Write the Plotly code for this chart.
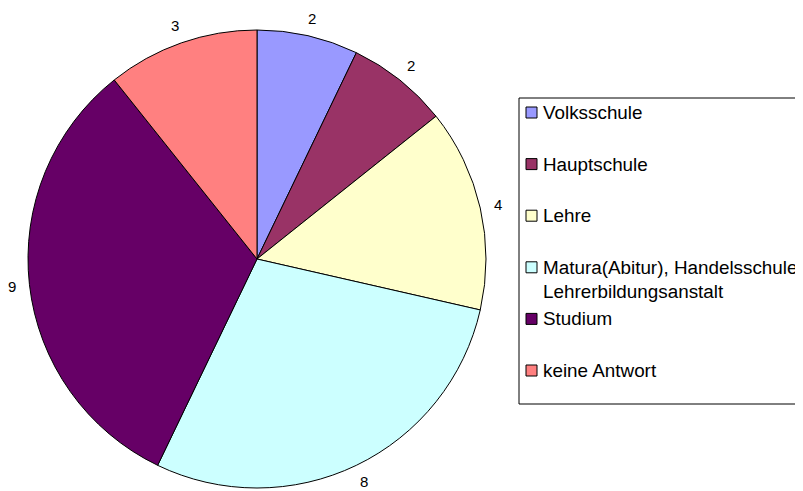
import math
import plotly.graph_objects as go

categories = ["Volksschule", "Hauptschule", "Lehre",
              "Matura(Abitur), Handelsschule<br>Lehrerbildungsanstalt",
              "Studium", "keine Antwort"]
values = [2, 2, 4, 8, 9, 3]
colors = ["#9999FF", "#993366", "#FFFFCC", "#CCFFFF", "#660066", "#FF8080"]

PAGE_W, PAGE_H = 803, 491
OFF = 8  # default body margin of the page
W, H = PAGE_W - OFF, PAGE_H - OFF
FONT = "Liberation Sans"

# pie geometry (page pixels)
cx, cy, r = 257, 259, 229
r_lab = 247  # distance of value labels from centre


def px(x):
    return (x - OFF) / W


def py(y):
    return 1 - (y - OFF) / H


labels_flat = [c.replace("<br>", " ") for c in categories]

fig = go.Figure()
fig.add_trace(go.Pie(
    labels=labels_flat, values=values, sort=False,
    direction="clockwise", rotation=0,
    marker=dict(colors=colors, line=dict(color="black", width=1)),
    textinfo="none",
    domain=dict(x=[px(cx - r), px(cx + r)], y=[py(cy + r), py(cy - r)]),
    showlegend=False, hoverinfo="label+value",
))

annotations = []
shapes = []

# value labels outside the slices, at each slice's mid-angle
total = sum(values)
cum = 0
for v in values:
    mid = (cum + v / 2) / total * 2 * math.pi  # clockwise from 12 o'clock
    cum += v
    lx = cx + r_lab * math.sin(mid)
    ly = cy - r_lab * math.cos(mid)
    annotations.append(dict(xref="paper", yref="paper", x=px(lx), y=py(ly),
                            xanchor="center", yanchor="middle", text=str(v),
                            showarrow=False,
                            font=dict(family=FONT, size=15, color="black")))

# legend box
shapes.append(dict(type="rect", xref="paper", yref="paper",
                   x0=px(519), x1=px(806), y0=py(404), y1=py(98),
                   line=dict(color="black", width=1), fillcolor="rgba(0,0,0,0)"))

item_top = 112.5
item_step = 51.6
line_step = 24
for i, (cat, col) in enumerate(zip(categories, colors)):
    yc = item_top + item_step * i
    shapes.append(dict(type="rect", xref="paper", yref="paper",
                       x0=px(526), x1=px(537), y0=py(yc + 5.5), y1=py(yc - 5.5),
                       line=dict(color="black", width=1), fillcolor=col))
    for j, line in enumerate(cat.split("<br>")):
        annotations.append(dict(xref="paper", yref="paper",
                                x=px(541), y=py(yc + j * line_step),
                                xanchor="left", yanchor="middle",
                                text=line, showarrow=False,
                                font=dict(family=FONT, size=18.85, color="black")))

fig.update_layout(
    width=W, height=H,
    margin=dict(l=0, r=0, t=0, b=0),
    paper_bgcolor="white",
    plot_bgcolor="white",
    shapes=shapes,
    annotations=annotations,
)

fig.write_html("out.html")
